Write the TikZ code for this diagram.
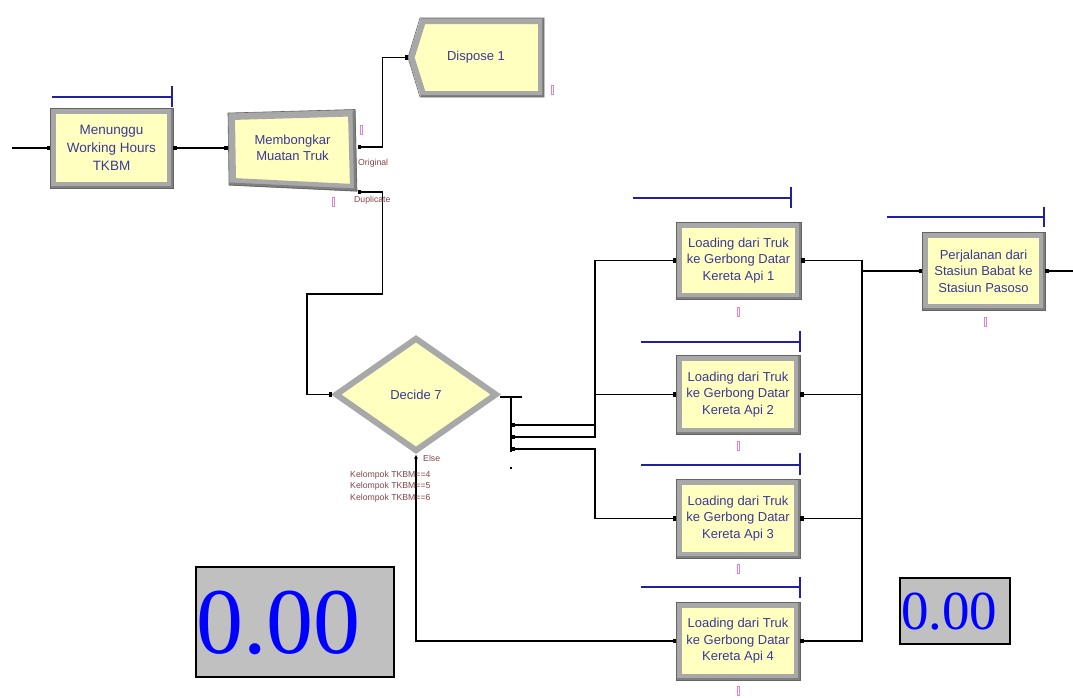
\documentclass[tikz,border=0pt]{standalone}
\usepackage{fontspec}
\setmainfont{Liberation Sans}
\newfontfamily\digitfont{Liberation Serif}
\usetikzlibrary{shapes.geometric,arrows.meta,calc}
\definecolor{yfill}{RGB}{255,255,192}
\definecolor{fgray}{RGB}{168,168,168}
\definecolor{fdark}{RGB}{128,128,128}
\definecolor{fedge}{RGB}{100,100,100}
\definecolor{tblue}{RGB}{60,56,150}
\definecolor{qblue}{RGB}{32,32,160}
\definecolor{lbrown}{RGB}{130,70,75}
\definecolor{pinkc}{RGB}{230,130,200}
\definecolor{dgray}{RGB}{192,192,192}
\definecolor{dblue}{RGB}{0,0,255}
\tikzset{
 module/.style={rectangle, fill=yfill, draw=fgray, line width=6pt, inner sep=0pt, align=center, text=tblue, font=\fontsize{13}{16.5}\selectfont},
 modtext/.style={rectangle, inner sep=0pt, outer sep=0pt, align=center, text=tblue, font=\fontsize{13}{16.5}\selectfont},
 decbox/.style={diamond, fill=yfill, draw=fgray, line width=6pt, inner sep=0pt, text=tblue, font=\fontsize{13}{16.5}\selectfont},
 conn/.style={line width=1.3pt, black},
 queue/.style={line width=1.3pt, qblue},
 small/.style={inner sep=0pt, text=lbrown, font=\fontsize{8.7}{10}\selectfont},
 anim/.style={draw=pinkc, line width=0.8pt},
 display/.style={rectangle, fill=dgray, draw=black, line width=1.5pt, inner sep=0pt},
}
\newcommand\modbevel[1]{%
 \draw[fdark, line width=2.5pt] ([xshift=1.25pt,yshift=1.25pt]#1.south west) -- ([xshift=-1.25pt,yshift=1.25pt]#1.south east) -- ([xshift=-1.25pt,yshift=-1.25pt]#1.north east);
 \draw[fedge, line width=0.6pt] (#1.south west) rectangle (#1.north east);
}
\begin{document}
\begin{tikzpicture}[x=1pt,y=-1pt,>={Square[length=3.5pt,width=4.5pt]}]
\fill[white] (0,0) rectangle (1073,697);
\useasboundingbox (0,0) rectangle (1073,697);

% modules
\node[module, minimum width=117, minimum height=74, font=\fontsize{13.5}{18}\selectfont] (wait) at (111.5,148) {Menunggu\\Working Hours\\TKBM};
\modbevel{wait}

\draw[fgray, line width=7pt, fill=yfill] (231.5,116.5) -- (351.5,113) -- (353.5,187.5) -- (232.5,181.5) -- cycle;
\draw[fdark, line width=3pt] (229.5,184) -- (355.5,190) -- (354,110.5);
\draw[fedge, line width=0.6pt] (228,113) -- (355,109.5) -- (357,191) -- (229,185) -- cycle;
\node[modtext, minimum width=130, minimum height=80] (sep) at (292.5,148) {Membongkar\\Muatan Truk};

\draw[fgray, line width=6pt, fill=yfill] (423,21) -- (541,21) -- (541,94) -- (423,94) -- (411.5,57.5) -- cycle;
\draw[fdark, line width=2.5pt] (421,95.75) -- (542.75,95.75) -- (542.75,19);
\draw[fedge, line width=0.6pt] (420,18) -- (544,18) -- (544,97) -- (420,97) -- (408,57.5) -- cycle;
\node[modtext, minimum width=136, minimum height=79] (disp) at (476,57.5) {Dispose 1};

\node[decbox, minimum width=162, minimum height=114] (dec) at (416,394.5) {Decide 7};

\node[module, minimum width=119, minimum height=71] (ld1) at (738.5,260.5) {Loading dari Truk\\ke Gerbong Datar\\Kereta Api 1};
\modbevel{ld1}
\node[module, minimum width=118, minimum height=73] (ld2) at (738,394.5) {Loading dari Truk\\ke Gerbong Datar\\Kereta Api 2};
\modbevel{ld2}
\node[module, minimum width=118, minimum height=73] (ld3) at (738,518.5) {Loading dari Truk\\ke Gerbong Datar\\Kereta Api 3};
\modbevel{ld3}
\node[module, minimum width=118, minimum height=72] (ld4) at (738,641) {Loading dari Truk\\ke Gerbong Datar\\Kereta Api 4};
\modbevel{ld4}
\node[module, minimum width=117, minimum height=72] (perj) at (983.5,271) {Perjalanan dari\\Stasiun Babat ke\\Stasiun Pasoso};
\modbevel{perj}

% queue animation lines
\draw[queue] (52,97) -- (172,97) (172,86) -- (172,107);
\draw[queue] (633,198) -- (791,198) (791,187) -- (791,208);
\draw[queue] (641,342) -- (800,342) (800,331) -- (800,352);
\draw[queue] (641,465) -- (800,465) (800,453) -- (800,475);
\draw[queue] (641,587) -- (800,587) (800,577) -- (800,598);
\draw[queue] (887,217) -- (1044,217) (1044,207) -- (1044,227);

% animation markers
\foreach \p in {(361,130),(333,202),(552,90),(738,312),(738,446),(738,569),(738,691),(985,322)}
  \draw[anim] \p ++(-1,-4.5) rectangle ++(2,9);

% connectors
\coordinate (src) at (12,148);
\draw[conn,->] (src) -- (wait.west);
\draw[conn,<->] (wait.east) -- (wait.east -| sep.west);
\draw[conn,<->] ([yshift=1pt]sep.east) -- ++(25,0) |- (disp.west);
\draw[conn,<->] ([yshift=-4pt]sep.south east) -- ++(25,0) -- ++(0,102) -| ($(dec.west)+(-25,0)$) -- (dec.west);

\coordinate (xr) at (511,397);
\coordinate (xb) at (511,452);
\coordinate (e1) at (511,425);
\coordinate (e2) at (511,437);
\coordinate (e3) at (511,449);
\coordinate (lbus) at (595,261);
\draw[conn] (dec.east |- xr) -- ++(22,0);
\draw[conn] (xr) -- (xb);
\fill (510,467) rectangle (512,469);
\draw[conn,<-] (e1) -- (e1 -| lbus);
\draw[conn,<->] (e2) -- (e2 -| lbus) -- (lbus |- ld1.west) -- (ld1.west);
\draw[conn,->] (lbus |- ld2.west) -- (ld2.west);
\draw[conn,<->] (e3) -- (e3 -| lbus) -- (lbus |- ld3.west) -- (ld3.west);
\draw[conn,{Latex[length=4pt,width=4pt]}-{Square[length=3.5pt,width=4.5pt]}] (dec.south) -- (dec.south |- ld4.west) -- (ld4.west);

\coordinate (rbus) at (862,261);
\coordinate (sink) at (1073,271);
\draw[conn,<->] (ld1.east) -- (ld1.east -| rbus) -- (rbus |- ld4.east) -- (ld4.east);
\draw[conn,<-] (ld2.east) -- (ld2.east -| rbus);
\draw[conn,<-] (ld3.east) -- (ld3.east -| rbus);
\draw[conn,->] (rbus |- perj.west) -- (perj.west);
\draw[conn,<-] (perj.east) -- (sink);

% labels
\node[small, anchor=west] (lorig) at (358,163) {Original};
\node[small, anchor=west] (ldup) at (354,200) {Duplicate};
\node[small, anchor=west] (lelse) at (423,458) {Else};
\node[small, anchor=west] (lk4) at (350,475) {Kelompok TKBM==4};
\node[small, anchor=west] (lk5) at (350,486) {Kelompok TKBM==5};
\node[small, anchor=west] (lk6) at (350,498) {Kelompok TKBM==6};

% displays
\node[display, minimum width=198, minimum height=110, anchor=north west] (box1) at (195,566) {};
\node[anchor=base west, inner sep=0pt, text=dblue, font=\digitfont\fontsize{94}{94}\selectfont] (val1) at ([xshift=1pt,yshift=24pt]box1.south west) {0.00};
\node[display, minimum width=110, minimum height=66, anchor=north west] (box2) at (899,577) {};
\node[anchor=base west, inner sep=0pt, text=dblue, font=\digitfont\fontsize{55}{55}\selectfont] (val2) at ([xshift=2pt,yshift=15pt]box2.south west) {0.00};
\end{tikzpicture}
\end{document}
